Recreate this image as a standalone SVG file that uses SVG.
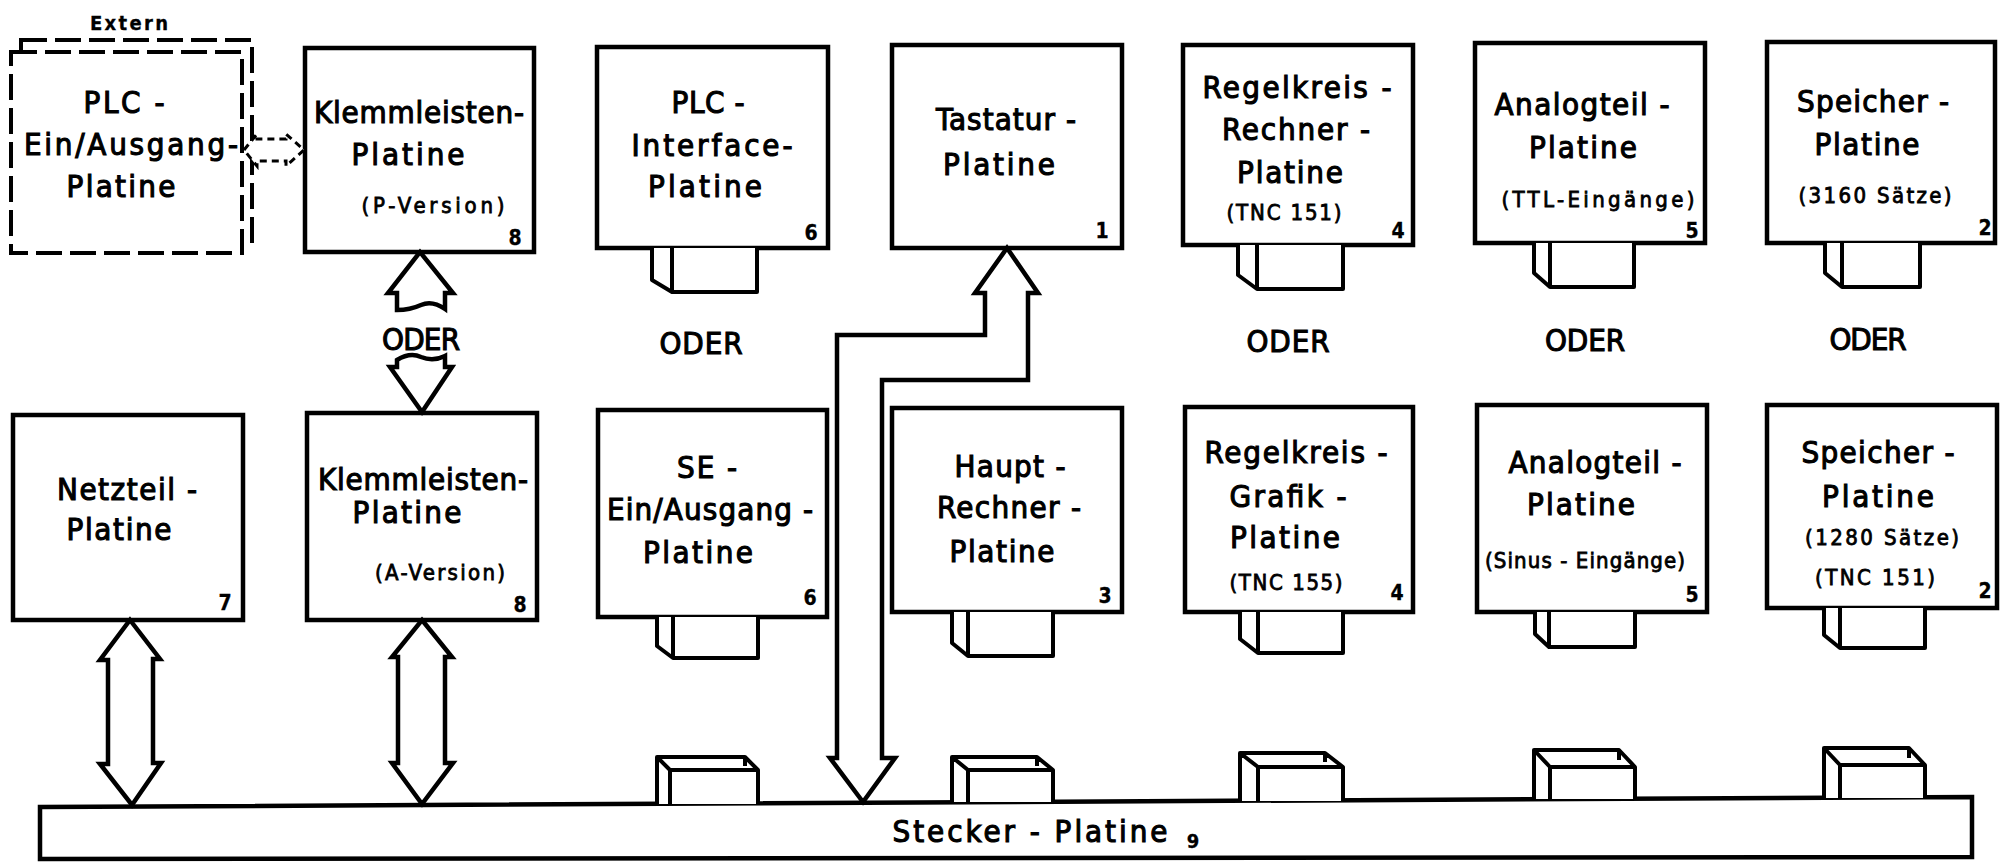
<svg xmlns="http://www.w3.org/2000/svg" width="2002" height="862" viewBox="0 0 2002 862">
<style>
.box{fill:#fff;stroke:#000;stroke-width:4.5}
.dash{fill:#fff;stroke:#000;stroke-width:4;stroke-dasharray:26 8}
.plug{fill:#fff;stroke:#000;stroke-width:4;stroke-linejoin:round}
.arr{fill:#fff;stroke:#000;stroke-width:4.5;stroke-linejoin:miter}
.darr{fill:#fff;stroke:#000;stroke-width:3;stroke-dasharray:7 5}
text{font-family:'DejaVu Sans Condensed','DejaVu Sans',sans-serif;font-size:31px;text-anchor:middle;fill:#000;stroke:#000;stroke-width:1.1}
text.s{font-size:22px;stroke-width:0.8}
text.n{font-size:21px;font-weight:bold;stroke-width:0.3}
text.e{font-size:20px;font-weight:bold;stroke-width:0.3}
</style>
<rect width="2002" height="862" fill="#fff"/>

<g id="plc-ein-ausgang">
<text class="e" x="129" y="30" textLength="78">Extern</text>
<rect class="dash" x="21" y="40" width="231" height="203"/>
<rect class="dash" x="11" y="52" width="231" height="201"/>
<text x="124" y="113" textLength="81">PLC -</text>
<text x="131" y="155" textLength="214">Ein/Ausgang-</text>
<text x="121" y="197" textLength="109">Platine</text>
</g>

<g id="klemmleisten-p">
<rect class="box" x="305" y="48" width="229" height="204"/>
<text x="419" y="123" textLength="210">Klemmleisten-</text>
<text x="408" y="165" textLength="113">Platine</text>
<text class="s" x="433" y="213" textLength="143">(P-Version)</text>
<text class="n" x="515" y="245">8</text>
</g>

<g id="plc-interface">
<rect class="box" x="597" y="47" width="231" height="201"/>
<text x="708" y="113" textLength="73">PLC -</text>
<text x="712" y="156" textLength="161">Interface-</text>
<text x="705" y="197" textLength="114">Platine</text>
<text class="n" x="811" y="240">6</text>
<path class="plug" d="M652,248 V280 L672,292 H757 V248 M672,248 V292"/>
</g>

<g id="tastatur">
<rect class="box" x="892" y="45" width="230" height="203"/>
<text x="1006" y="130" textLength="140">Tastatur -</text>
<text x="999" y="175" textLength="112">Platine</text>
<text class="n" x="1102" y="238">1</text>
</g>

<g id="regelkreis-rechner">
<rect class="box" x="1183" y="45" width="230" height="200"/>
<text x="1297" y="98" textLength="189">Regelkreis -</text>
<text x="1296" y="140" textLength="148">Rechner -</text>
<text x="1290" y="183" textLength="106">Platine</text>
<text class="s" x="1284" y="220" textLength="115">(TNC 151)</text>
<text class="n" x="1398" y="238">4</text>
<path class="plug" d="M1238,245 V275 L1257,289 H1343 V245 M1257,245 V289"/>
</g>

<g id="analogteil-ttl">
<rect class="box" x="1475" y="43" width="230" height="200"/>
<text x="1582" y="115" textLength="175">Analogteil -</text>
<text x="1583" y="158" textLength="108">Platine</text>
<text class="s" x="1598" y="207" textLength="193">(TTL-Eingänge)</text>
<text class="n" x="1692" y="238">5</text>
<path class="plug" d="M1534,243 V273 L1550,287 H1634 V243 M1550,243 V287"/>
</g>

<g id="speicher-3160">
<rect class="box" x="1767" y="42" width="228" height="201"/>
<text x="1873" y="112" textLength="152">Speicher -</text>
<text x="1867" y="155" textLength="105">Platine</text>
<text class="s" x="1875" y="203" textLength="153">(3160 Sätze)</text>
<text class="n" x="1985" y="235">2</text>
<path class="plug" d="M1825,243 V273 L1842,287 H1920 V243 M1842,243 V287"/>
</g>

<g id="oder-labels">
<text x="421" y="350" textLength="78">ODER</text>
<text x="701" y="354" textLength="83">ODER</text>
<text x="1288" y="352" textLength="83">ODER</text>
<text x="1585" y="351" textLength="80">ODER</text>
<text x="1868" y="350" textLength="77">ODER</text>
</g>

<g id="netzteil">
<rect class="box" x="13" y="415" width="230" height="205"/>
<text x="127" y="500" textLength="140">Netzteil -</text>
<text x="119" y="540" textLength="105">Platine</text>
<text class="n" x="225" y="610">7</text>
</g>

<g id="klemmleisten-a">
<rect class="box" x="307" y="413" width="230" height="207"/>
<text x="423" y="490" textLength="210">Klemmleisten-</text>
<text x="407" y="523" textLength="109">Platine</text>
<text class="s" x="440" y="580" textLength="130">(A-Version)</text>
<text class="n" x="520" y="612">8</text>
</g>

<g id="se-ein-ausgang">
<rect class="box" x="598" y="410" width="229" height="207"/>
<text x="707" y="478" textLength="60">SE -</text>
<text x="710" y="520" textLength="206">Ein/Ausgang -</text>
<text x="698" y="563" textLength="110">Platine</text>
<text class="n" x="810" y="605">6</text>
<path class="plug" d="M657,617 V646 L673,658 H758 V617 M673,617 V658"/>
</g>

<g id="haupt-rechner">
<rect class="box" x="892" y="408" width="230" height="204"/>
<text x="1010" y="477" textLength="111">Haupt -</text>
<text x="1009" y="518" textLength="144">Rechner -</text>
<text x="1002" y="562" textLength="105">Platine</text>
<text class="n" x="1105" y="603">3</text>
<path class="plug" d="M952,612 V643 L968,656 H1053 V612 M968,612 V656"/>
</g>

<g id="regelkreis-grafik">
<rect class="box" x="1185" y="407" width="228" height="205"/>
<text x="1296" y="463" textLength="183">Regelkreis -</text>
<text x="1288" y="507" textLength="117">Grafik -</text>
<text x="1285" y="548" textLength="110">Platine</text>
<text class="s" x="1286" y="590" textLength="113">(TNC 155)</text>
<text class="n" x="1397" y="600">4</text>
<path class="plug" d="M1240,612 V639 L1258,653 H1343 V612 M1258,612 V653"/>
</g>

<g id="analogteil-sinus">
<rect class="box" x="1477" y="405" width="230" height="207"/>
<text x="1595" y="473" textLength="173">Analogteil -</text>
<text x="1581" y="515" textLength="108">Platine</text>
<text class="s" x="1585" y="568" textLength="200">(Sinus - Eingänge)</text>
<text class="n" x="1692" y="602">5</text>
<path class="plug" d="M1535,612 V634 L1549,647 H1635 V612 M1549,612 V647"/>
</g>

<g id="speicher-1280">
<rect class="box" x="1767" y="405" width="230" height="203"/>
<text x="1878" y="463" textLength="153">Speicher -</text>
<text x="1878" y="507" textLength="112">Platine</text>
<text class="s" x="1882" y="545" textLength="154">(1280 Sätze)</text>
<text class="s" x="1875" y="585" textLength="120">(TNC 151)</text>
<text class="n" x="1985" y="598">2</text>
<path class="plug" d="M1824,608 V635 L1840,648 H1925 V608 M1840,608 V648"/>
</g>

<g id="stecker-platine">
<path class="box" d="M40,807 L1972,797 L1972,857 L40,859 Z"/>
<text x="1030" y="842" textLength="275">Stecker - Platine</text>
<text class="e" x="1193" y="848">9</text>
<path class="plug" d="M657,804 V757 H745 L758,770 V804 M657,757 L670,770 H758 M670,770 V804 M745,757 V766"/>
<path class="plug" d="M952,802 V757 H1037 L1053,770 V802 M952,757 L968,770 H1053 M968,770 V802 M1037,757 V766"/>
<path class="plug" d="M1240,801 V753 H1325 L1343,767 V801 M1240,753 L1258,767 H1343 M1258,767 V801 M1325,753 V762"/>
<path class="plug" d="M1534,799 V750 H1619 L1635,767 V799 M1534,750 L1550,767 H1635 M1550,767 V799 M1619,750 V760"/>
<path class="plug" d="M1824,798 V748 H1909 L1925,765 V798 M1824,748 L1840,765 H1925 M1840,765 V798 M1909,748 V758"/>
</g>

<g id="connectors">
<path class="darr" d="M244,150 L257,134 V139 H286 V134 L304,150 L286,166 V161 H257 V166 Z"/>
<path class="arr" d="M397,310 V293 H388 L420,252 L453,293 H445 V309 Q432,300 421,305 Q410,310 397,310 Z"/>
<path class="arr" d="M397,360 Q410,352 421,357 Q433,362 445,356 V367 H452 L422,412 L390,367 H397 Z"/>
<path class="arr" d="M130,620 L160,659 H153 V763 H161 L132,805 L100,764 H108 V660 H100 Z"/>
<path class="arr" d="M422,620 L452,657 H445 V763 H453 L422,804 L392,763 H398 V657 H392 Z"/>
<path class="arr" d="M863,802 L830,758 H837 V335 H985 V293 H975 L1007,248 L1038,293 H1028 V380 H882 V758 H895 Z"/>
</g>
</svg>
